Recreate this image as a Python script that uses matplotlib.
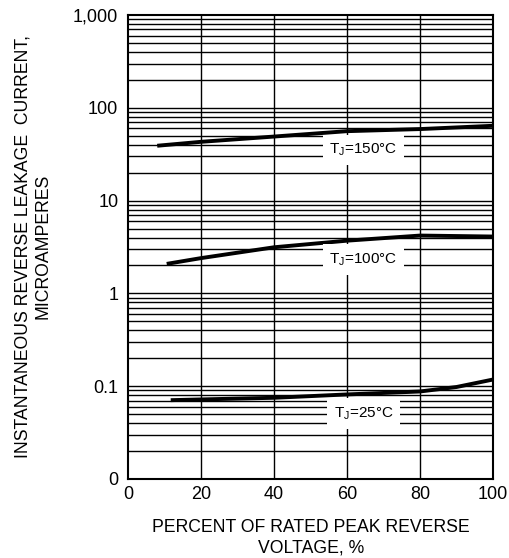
import numpy as np
import matplotlib
matplotlib.use("Agg")
import matplotlib.pyplot as plt

plt.rcParams['font.family'] = ['Liberation Sans', 'DejaVu Sans']

# data
x_150 = [8, 20, 40, 60, 80, 100]
y_150 = [39, 43, 49, 56, 59, 64]
x_100 = [10.6, 20, 40, 60, 80, 90, 100]
y_100 = [2.08, 2.4, 3.14, 3.7, 4.2, 4.15, 4.1]
x_25 = [11.7, 20, 40, 60, 80, 90, 100]
y_25 = [0.0707, 0.072, 0.075, 0.0815, 0.0877, 0.098, 0.118]

labels = ["150", "100", "25"]
label_pos = [(64.5, 35), (64.5, 2.31), (64.5, 0.0508)]

yticks = [0.01, 0.1, 1, 10, 100, 1000]
ytick_labels = ["0", "0.1", "1", "10", "100", "1,000"]
xticks = [0, 20, 40, 60, 80, 100]

fig = plt.figure(figsize=(5.09, 5.58), dpi=100)
ax = fig.add_axes([0.2515, 0.1416, 0.7171, 0.8315])

ax.set_yscale('log')
ax.set_xlim(0, 100)
ax.set_ylim(0.01, 1000)

# grid: every minor decade line and the x grid
for dec in [0.01, 0.1, 1, 10, 100]:
    for m in range(1, 10):
        ax.axhline(dec * m, color='black', lw=1.0, zorder=1)
for xv in xticks[1:-1]:
    ax.axvline(xv, color='black', lw=1.0, zorder=1)

for xs, ys in [(x_150, y_150), (x_100, y_100), (x_25, y_25)]:
    ax.plot(xs, ys, color='black', lw=2.8, solid_capstyle='butt', zorder=3)

for lab, (lx, ly) in zip(labels, label_pos):
    ax.text(lx, ly, r"T$_\mathregular{J}$=" + lab + "°C", ha='center', va='center',
            fontsize=11, zorder=4,
            bbox=dict(boxstyle='square,pad=0.45', facecolor='white', edgecolor='none'))

ax.set_yticks(yticks)
ax.set_yticklabels(ytick_labels)
ax.yaxis.set_minor_locator(matplotlib.ticker.NullLocator())
ax.set_xticks(xticks)
ax.tick_params(axis='both', length=0, labelsize=13)
ax.tick_params(axis='y', pad=7)
ax.tick_params(axis='x', pad=5)

for s in ax.spines.values():
    s.set_linewidth(1.5)

# axis titles placed directly in figure coords
fig.text(0.611, 0.0358, "PERCENT OF RATED PEAK REVERSE\nVOLTAGE, %", fontsize=12.7,
         ha='center', va='center', linespacing=1.25, multialignment='center')
fig.text(0.0648, 0.559, "INSTANTANEOUS REVERSE LEAKAGE  CURRENT,\nMICROAMPERES", fontsize=12.7,
         ha='center', va='center', rotation=90, linespacing=1.25, multialignment='center')

fig.savefig("out.png", dpi=100)
